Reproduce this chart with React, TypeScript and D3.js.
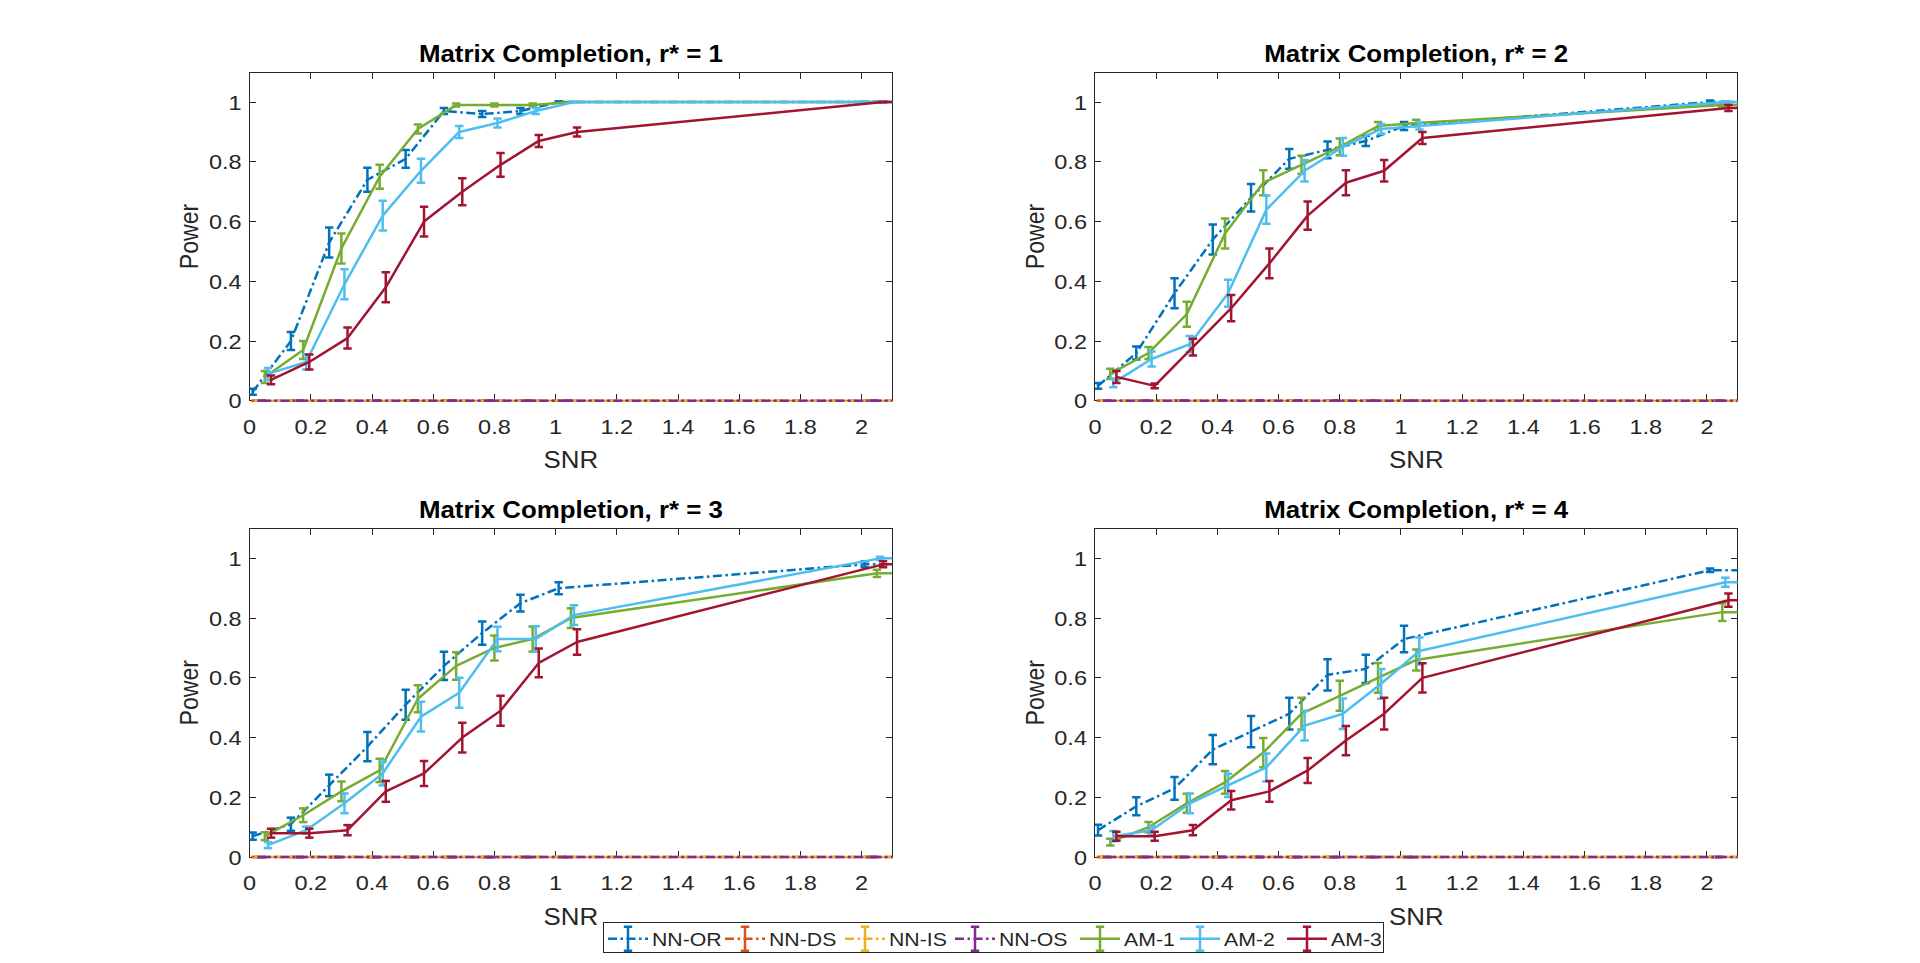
import * as d3 from "d3";

const W = 1920;
const H = 963;
const FONT = "'Liberation Sans', Arial, Helvetica, sans-serif";
const INK = "#262626";
const SX = 1.12; // the reference text is a little wider than plain Arial

// ---- data ----
const SNR = [0, 0.125, 0.25, 0.375, 0.5, 0.625, 0.75, 0.875, 1, 2, 3];
const METHODS = ["NN-OR", "NN-DS", "NN-IS", "NN-OS", "AM-1", "AM-2", "AM-3"];
const SHIFT = [0.01, 0.02, 0.03, 0.04, 0.05, 0.06, 0.07];
const COLORS = ["#0072BD", "#D95319", "#EDB120", "#7E2F8E", "#77AC30", "#4DBEEE", "#A2142F"];
const DASHED = [true, true, true, true, false, false, false];
const RANKS = [1, 2, 3, 4];
const X_TICKS = [0, 0.2, 0.4, 0.6, 0.8, 1, 1.2, 1.4, 1.6, 1.8, 2];
const Y_TICKS = [0, 0.2, 0.4, 0.6, 0.8, 1];

// one row per panel (r* = 1..4)
const nnOrPower = [
  [0.03, 0.2, 0.53, 0.74, 0.81, 0.97, 0.96, 0.97, 1.0, 1.0, 1.0],
  [0.05, 0.16, 0.36, 0.54, 0.68, 0.81, 0.84, 0.87, 0.92, 1.0, 1.0],
  [0.07, 0.11, 0.24, 0.37, 0.51, 0.64, 0.75, 0.85, 0.9, 0.98, 0.98],
  [0.09, 0.17, 0.23, 0.36, 0.42, 0.48, 0.61, 0.63, 0.73, 0.96, 0.96],
];
const nnOrErr = [
  [0.01, 0.03, 0.05, 0.04, 0.03, 0.01, 0.01, 0.01, 0.003, 0, 0],
  [0.01, 0.022, 0.05, 0.05, 0.046, 0.033, 0.028, 0.017, 0.013, 0.005, 0],
  [0.012, 0.022, 0.036, 0.049, 0.05, 0.047, 0.039, 0.028, 0.02, 0.01, 0],
  [0.018, 0.03, 0.038, 0.049, 0.052, 0.053, 0.052, 0.047, 0.044, 0.006, 0],
];
const nnZero = [0, 0, 0, 0, 0, 0, 0, 0, 0, 0, 0];

const am1Power = [
  [0.08, 0.17, 0.51, 0.75, 0.91, 0.99, 0.99, 0.99, 1.0, 1.0, 1.0],
  [0.09, 0.16, 0.29, 0.56, 0.73, 0.79, 0.85, 0.92, 0.93, 0.99, 0.99],
  [0.07, 0.14, 0.22, 0.29, 0.53, 0.64, 0.7, 0.73, 0.8, 0.95, 0.95],
  [0.05, 0.1, 0.18, 0.25, 0.35, 0.48, 0.54, 0.6, 0.66, 0.82, 0.82],
];
const am1Err = [
  [0.02, 0.03, 0.05, 0.04, 0.015, 0.005, 0.005, 0.005, 0, 0, 0],
  [0.017, 0.02, 0.042, 0.05, 0.042, 0.03, 0.028, 0.013, 0.011, 0.005, 0],
  [0.013, 0.023, 0.033, 0.039, 0.045, 0.046, 0.042, 0.042, 0.033, 0.012, 0],
  [0.011, 0.017, 0.032, 0.038, 0.049, 0.053, 0.05, 0.05, 0.035, 0.03, 0],
];

const am2Power = [
  [0.09, 0.13, 0.39, 0.62, 0.77, 0.9, 0.93, 0.97, 1.0, 1.0, 1.0],
  [0.06, 0.14, 0.19, 0.36, 0.64, 0.77, 0.85, 0.91, 0.92, 1.0, 1.0],
  [0.04, 0.09, 0.18, 0.28, 0.47, 0.55, 0.73, 0.73, 0.81, 1.0, 1.0],
  [0.07, 0.09, 0.18, 0.24, 0.3, 0.44, 0.48, 0.58, 0.69, 0.92, 0.92],
];
const am2Err = [
  [0.02, 0.025, 0.05, 0.05, 0.04, 0.02, 0.015, 0.01, 0, 0, 0],
  [0.015, 0.025, 0.027, 0.045, 0.047, 0.036, 0.03, 0.017, 0.012, 0.003, 0],
  [0.01, 0.012, 0.033, 0.04, 0.05, 0.05, 0.041, 0.043, 0.033, 0.005, 0],
  [0.017, 0.014, 0.033, 0.039, 0.047, 0.05, 0.051, 0.05, 0.045, 0.015, 0],
];

const am3Power = [
  [0.07, 0.13, 0.21, 0.38, 0.6, 0.7, 0.79, 0.87, 0.9, 1.0, 1.0],
  [0.08, 0.05, 0.18, 0.31, 0.46, 0.62, 0.73, 0.77, 0.88, 0.98, 0.98],
  [0.08, 0.08, 0.09, 0.22, 0.28, 0.4, 0.49, 0.65, 0.72, 0.98, 0.98],
  [0.07, 0.07, 0.09, 0.19, 0.22, 0.29, 0.39, 0.48, 0.6, 0.86, 0.86],
];
const am3Err = [
  [0.015, 0.025, 0.035, 0.05, 0.05, 0.045, 0.04, 0.02, 0.015, 0, 0],
  [0.02, 0.008, 0.028, 0.044, 0.05, 0.047, 0.042, 0.036, 0.02, 0.01, 0],
  [0.015, 0.015, 0.017, 0.035, 0.042, 0.05, 0.05, 0.048, 0.043, 0.01, 0],
  [0.015, 0.015, 0.017, 0.031, 0.035, 0.042, 0.049, 0.053, 0.049, 0.022, 0],
];

// ---- layout (MATLAB default subplot positions) ----
const COL_X = [0.13 * W, 0.5703 * W];
const ROW_Y = [(1 - 0.5838 - 0.3412) * H, (1 - 0.11 - 0.3412) * H];
const PW = 0.3347 * W;
const PH = 0.3412 * H;
const TICK = 6.4;
const CAP = 4.2;
const LW = 2.5;
const DASH = "9,3.5,2.5,3.5";
const LEGEND_X = [608, 725, 845, 955, 1080, 1180, 1287];
const LEGEND_BOX = { x: 603.5, y: 922.5, w: 780, h: 29.5 };

type TxtProps = {
  x: number;
  y: number;
  size: number;
  anchor?: string;
  weight?: string;
  fill?: string;
  rotate?: number;
  children: any;
};

const Txt = ({ x, y, size, anchor = "middle", weight = "normal", fill = INK, rotate = 0, children }: TxtProps) => (
  <text
    transform={`translate(${x},${y}) scale(${SX},1)${rotate ? ` rotate(${rotate})` : ""}`}
    textAnchor={anchor}
    fontSize={size}
    fontWeight={weight}
    fill={fill}
    fontFamily={FONT}
  >
    {children}
  </text>
);

const Panel = ({ idx }: { idx: number }) => {
  const x0 = COL_X[idx % 2];
  const y0 = ROW_Y[Math.floor(idx / 2)];
  const xScale = d3.scaleLinear().domain([0, 2.1]).range([x0, x0 + PW]);
  const yScale = d3.scaleLinear().domain([0, 1.1]).range([y0 + PH, y0]);

  const powers = [nnOrPower[idx], nnZero, nnZero, nnZero, am1Power[idx], am2Power[idx], am3Power[idx]];
  const errs = [nnOrErr[idx], nnZero, nnZero, nnZero, am1Err[idx], am2Err[idx], am3Err[idx]];
  const clipId = `clip-${idx}`;

  return (
    <g>
      <defs>
        <clipPath id={clipId}>
          <rect x={x0} y={y0} width={PW} height={PH + 3} />
        </clipPath>
      </defs>

      {/* axes box and ticks, below the data like MATLAB's default layer */}
      <g stroke={INK} strokeWidth={1} shapeRendering="crispEdges">
        <rect x={x0} y={y0} width={PW} height={PH} fill="none" />
        {X_TICKS.map((t) => (
          <g key={`x${t}`}>
            <line x1={xScale(t)} x2={xScale(t)} y1={y0 + PH} y2={y0 + PH - TICK} />
            <line x1={xScale(t)} x2={xScale(t)} y1={y0} y2={y0 + TICK} />
          </g>
        ))}
        {Y_TICKS.map((t) => (
          <g key={`y${t}`}>
            <line x1={x0} x2={x0 + TICK} y1={yScale(t)} y2={yScale(t)} />
            <line x1={x0 + PW} x2={x0 + PW - TICK} y1={yScale(t)} y2={yScale(t)} />
          </g>
        ))}
      </g>

      <g clipPath={`url(#${clipId})`}>
        {METHODS.map((m, s) => {
          const pts = SNR.map((v, k) => [v + SHIFT[s], powers[s][k], errs[s][k]]);
          const line = d3
            .line<number[]>()
            .x((d) => xScale(d[0]))
            .y((d) => yScale(d[1]));
          return (
            <g key={m} stroke={COLORS[s]} strokeWidth={LW} fill="none">
              <path d={line(pts) ?? ""} strokeDasharray={DASHED[s] ? DASH : undefined} strokeLinejoin="round" />
              {pts.map((d, k) => {
                const cx = xScale(d[0]);
                const lo = yScale(d[1] - d[2]);
                const hi = yScale(d[1] + d[2]);
                return (
                  <g key={k}>
                    <line x1={cx} x2={cx} y1={lo} y2={hi} />
                    <line x1={cx - CAP} x2={cx + CAP} y1={lo} y2={lo} />
                    <line x1={cx - CAP} x2={cx + CAP} y1={hi} y2={hi} />
                  </g>
                );
              })}
            </g>
          );
        })}
      </g>

      {X_TICKS.map((t) => (
        <Txt key={`xl${t}`} x={xScale(t)} y={y0 + PH + 32.7} size={21}>
          {String(t)}
        </Txt>
      ))}
      {Y_TICKS.map((t) => (
        <Txt key={`yl${t}`} x={x0 - 8} y={yScale(t) + 7.5} size={21} anchor="end">
          {String(t)}
        </Txt>
      ))}

      <Txt x={x0 + PW / 2} y={y0 + PH + 67.5} size={23.1}>
        SNR
      </Txt>
      <Txt x={x0 - 51.3} y={y0 + PH / 2} size={23.1} rotate={-90}>
        Power
      </Txt>
      <Txt x={x0 + PW / 2} y={y0 - 10.5} size={23.1} weight="bold" fill="#000">
        {`Matrix Completion, r* = ${RANKS[idx]}`}
      </Txt>
    </g>
  );
};

const Legend = () => {
  const cy = LEGEND_BOX.y + LEGEND_BOX.h / 2 + 1.5;
  return (
    <g>
      <rect
        x={LEGEND_BOX.x}
        y={LEGEND_BOX.y}
        width={LEGEND_BOX.w}
        height={LEGEND_BOX.h}
        fill="#fff"
        stroke={INK}
        strokeWidth={1}
        shapeRendering="crispEdges"
      />
      {METHODS.map((m, s) => {
        const lx = LEGEND_X[s];
        return (
          <g key={m}>
            <g stroke={COLORS[s]} strokeWidth={LW} fill="none">
              <line x1={lx} x2={lx + 40} y1={cy} y2={cy} strokeDasharray={DASHED[s] ? DASH : undefined} />
              <line x1={lx + 20} x2={lx + 20} y1={cy - 12} y2={cy + 12} />
              <line x1={lx + 20 - CAP} x2={lx + 20 + CAP} y1={cy - 12} y2={cy - 12} />
              <line x1={lx + 20 - CAP} x2={lx + 20 + CAP} y1={cy + 12} y2={cy + 12} />
            </g>
            <Txt x={lx + 44} y={cy + 7} size={19} anchor="start">
              {m}
            </Txt>
          </g>
        );
      })}
    </g>
  );
};

export default function App() {
  return (
    <div style={{ position: "absolute", left: 0, top: 0 }}>
      <svg width={W} height={H} style={{ display: "block", background: "#fff" }}>
        {[0, 1, 2, 3].map((i) => (
          <Panel key={i} idx={i} />
        ))}
        <Legend />
      </svg>
    </div>
  );
}
